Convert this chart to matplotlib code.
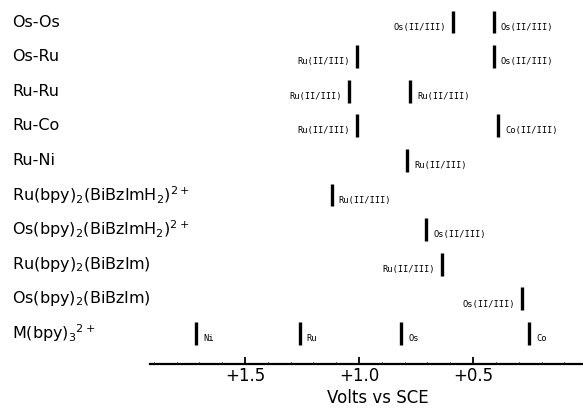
import matplotlib
matplotlib.use("Agg")
import matplotlib.pyplot as plt
from matplotlib.ticker import MultipleLocator

# Row (compound) labels, top to bottom
compounds = [
    "Os-Os",
    "Os-Ru",
    "Ru-Ru",
    "Ru-Co",
    "Ru-Ni",
    r"Ru(bpy)$_2$(BiBzImH$_2$)$^{2+}$",
    r"Os(bpy)$_2$(BiBzImH$_2$)$^{2+}$",
    r"Ru(bpy)$_2$(BiBzIm)",
    r"Os(bpy)$_2$(BiBzIm)",
    r"M(bpy)$_3$$^{2+}$",
]

# Redox potentials (V vs SCE) per row, with couple labels and label side
potentials = [
    [0.59, 0.41],
    [1.01, 0.41],
    [1.045, 0.775],
    [1.01, 0.39],
    [0.79],
    [1.12],
    [0.705],
    [0.635],
    [0.285],
    [1.715, 1.26, 0.815, 0.255],
]
couples = [
    ["Os(II/III)", "Os(II/III)"],
    ["Ru(II/III)", "Os(II/III)"],
    ["Ru(II/III)", "Ru(II/III)"],
    ["Ru(II/III)", "Co(II/III)"],
    ["Ru(II/III)"],
    ["Ru(II/III)"],
    ["Os(II/III)"],
    ["Ru(II/III)"],
    ["Os(II/III)"],
    ["Ni", "Ru", "Os", "Co"],
]
sides = [
    ["left", "right"],
    ["left", "right"],
    ["left", "right"],
    ["left", "right"],
    ["right"],
    ["right"],
    ["right"],
    ["left"],
    ["left"],
    ["right", "right", "right", "right"],
]

tick_values = [1.5, 1.0, 0.5]
tick_labels = ["+1.5", "+1.0", "+0.5"]

fig = plt.figure(figsize=(5.83, 4.11), dpi=100)
ax = fig.add_axes([150 / 583, 47 / 411, 433 / 583, 364 / 411])
ax.set_xlim(1.917, 0.018)
ax.set_ylim(9.884, -0.636)

for i, (vals, labs, sds) in enumerate(zip(potentials, couples, sides)):
    for v, lab, sd in zip(vals, labs, sds):
        ax.vlines(v, i - 0.33, i + 0.33, color="black", lw=2.4)
        off = -5 if sd == "left" else 5
        ha = "right" if sd == "left" else "left"
        ax.annotate(lab, (v, i + 0.15), xytext=(off, 0), textcoords="offset points",
                    ha=ha, va="center", fontsize=6.3,
                    family="DejaVu Sans Mono", annotation_clip=False)

for i, name in enumerate(compounds):
    ax.annotate(name, xy=(0, i), xycoords=("figure pixels", "data"),
                xytext=(12 * 0.72, 0), textcoords="offset points",
                ha="left", va="center", fontsize=11.5, annotation_clip=False)

for s in ["top", "left", "right"]:
    ax.spines[s].set_visible(False)
ax.spines["bottom"].set_linewidth(1.6)
ax.set_yticks([])
ax.set_xticks(tick_values)
ax.set_xticklabels(tick_labels, fontsize=12)
ax.xaxis.set_minor_locator(MultipleLocator(0.1))
ax.tick_params(axis="x", which="major", direction="in", length=5, width=1.3, pad=2)
ax.tick_params(axis="x", which="minor", direction="in", length=1.5, width=0.7)
ax.set_xlabel("Volts vs SCE", fontsize=12)
ax.xaxis.set_label_coords(0.527, -0.068)

fig.savefig("out.png", dpi=100)
